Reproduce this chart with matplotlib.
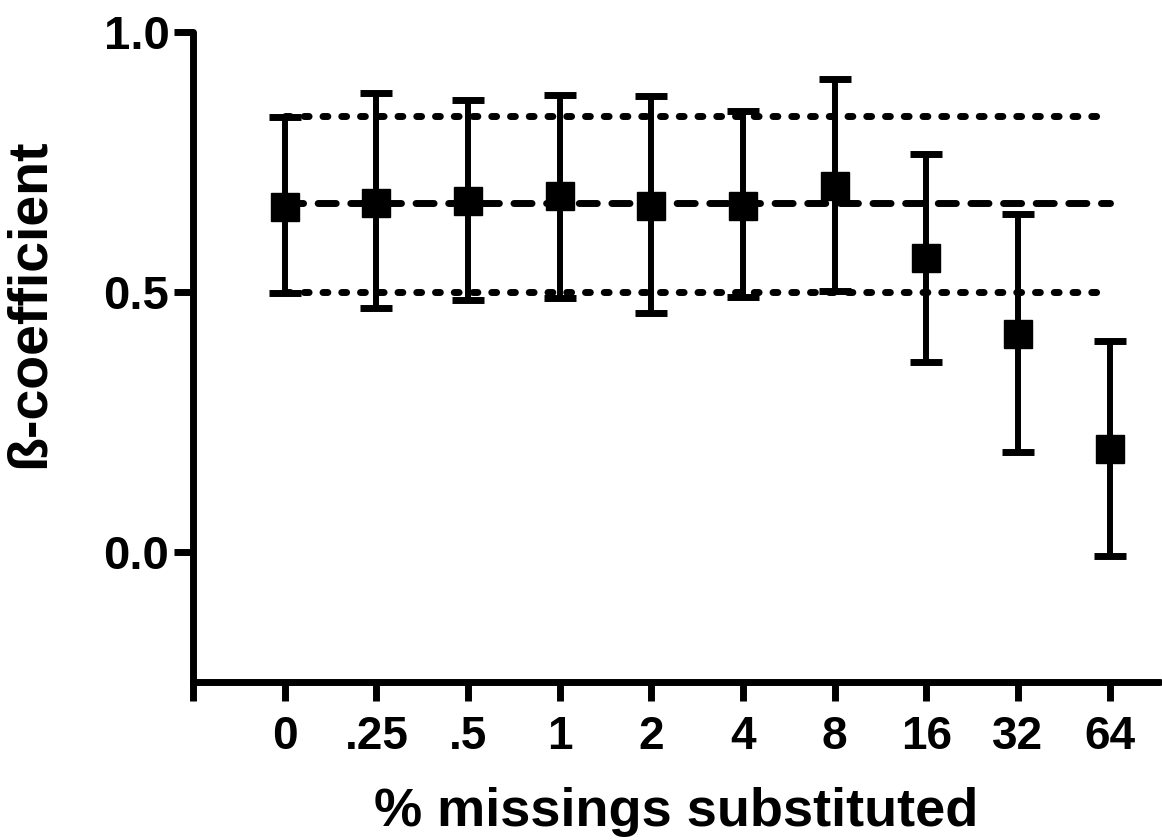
import matplotlib.pyplot as plt
import numpy as np

labels = ['0', '.25', '.5', '1', '2', '4', '8', '16', '32', '64']
means = [0.663, 0.671, 0.675, 0.685, 0.665, 0.665, 0.704, 0.565, 0.419, 0.198]
upper = [0.837, 0.883, 0.869, 0.879, 0.877, 0.848, 0.910, 0.765, 0.650, 0.406]
lower = [0.498, 0.469, 0.485, 0.488, 0.460, 0.490, 0.502, 0.365, 0.192, -0.008]
ref_mean = 0.671
ref_hi = 0.838
ref_lo = 0.500

plt.rcParams['font.family'] = ['Liberation Sans', 'DejaVu Sans']
plt.rcParams['font.weight'] = 'bold'

fig = plt.figure(figsize=(11.62, 8.4), dpi=100)
ax = fig.add_axes([193 / 1162, 1 - 682 / 840, (1160 - 193) / 1162, (682 - 32) / 840])

x = np.arange(1, len(labels) + 1)
m = np.array(means)
yerr = [m - np.array(lower), np.array(upper) - m]

# reference lines: mean (dashed) and band limits (dotted)
ax.plot([x[0], x[-1]], [ref_hi, ref_hi], color='black', lw=5, ls=(0, (0.7, 2.0)), dash_capstyle='round')
ax.plot([x[0], x[-1]], [ref_lo, ref_lo], color='black', lw=5, ls=(0, (0.7, 2.0)), dash_capstyle='round')
ax.plot([x[0], x[-1]], [ref_mean, ref_mean], color='black', lw=5, ls=(0, (2.6, 2.1)), dash_capstyle='round')

ax.errorbar(x, means, yerr=yerr, fmt='s', color='black', ms=20, elinewidth=4.3,
            capsize=11.5, capthick=5, zorder=5)

ax.set_xlim(0, 10.55)
ax.set_ylim(-0.25, 1.0)
ax.set_xticks(np.arange(0, 11))
ax.set_xticklabels([''] + labels)
ax.set_yticks([0.0, 0.5, 1.0])
ax.set_yticklabels(['0.0', '0.5', '1.0'])
for s in ['top', 'right']:
    ax.spines[s].set_visible(False)
for s in ['left', 'bottom']:
    ax.spines[s].set_linewidth(5)
    ax.spines[s].set_capstyle('round')
ax.tick_params(axis='x', length=14, width=5, labelsize=33, pad=10)
ax.tick_params(axis='y', length=14, width=5, labelsize=34, pad=3)
ax.set_xlabel('% missings substituted', fontsize=39, fontweight='bold', labelpad=20)
ax.set_ylabel('ß-coefficient', fontsize=40, fontweight='bold')
ax.yaxis.set_label_coords(-0.142, 0.583)

fig.savefig('out.png', dpi=100)
